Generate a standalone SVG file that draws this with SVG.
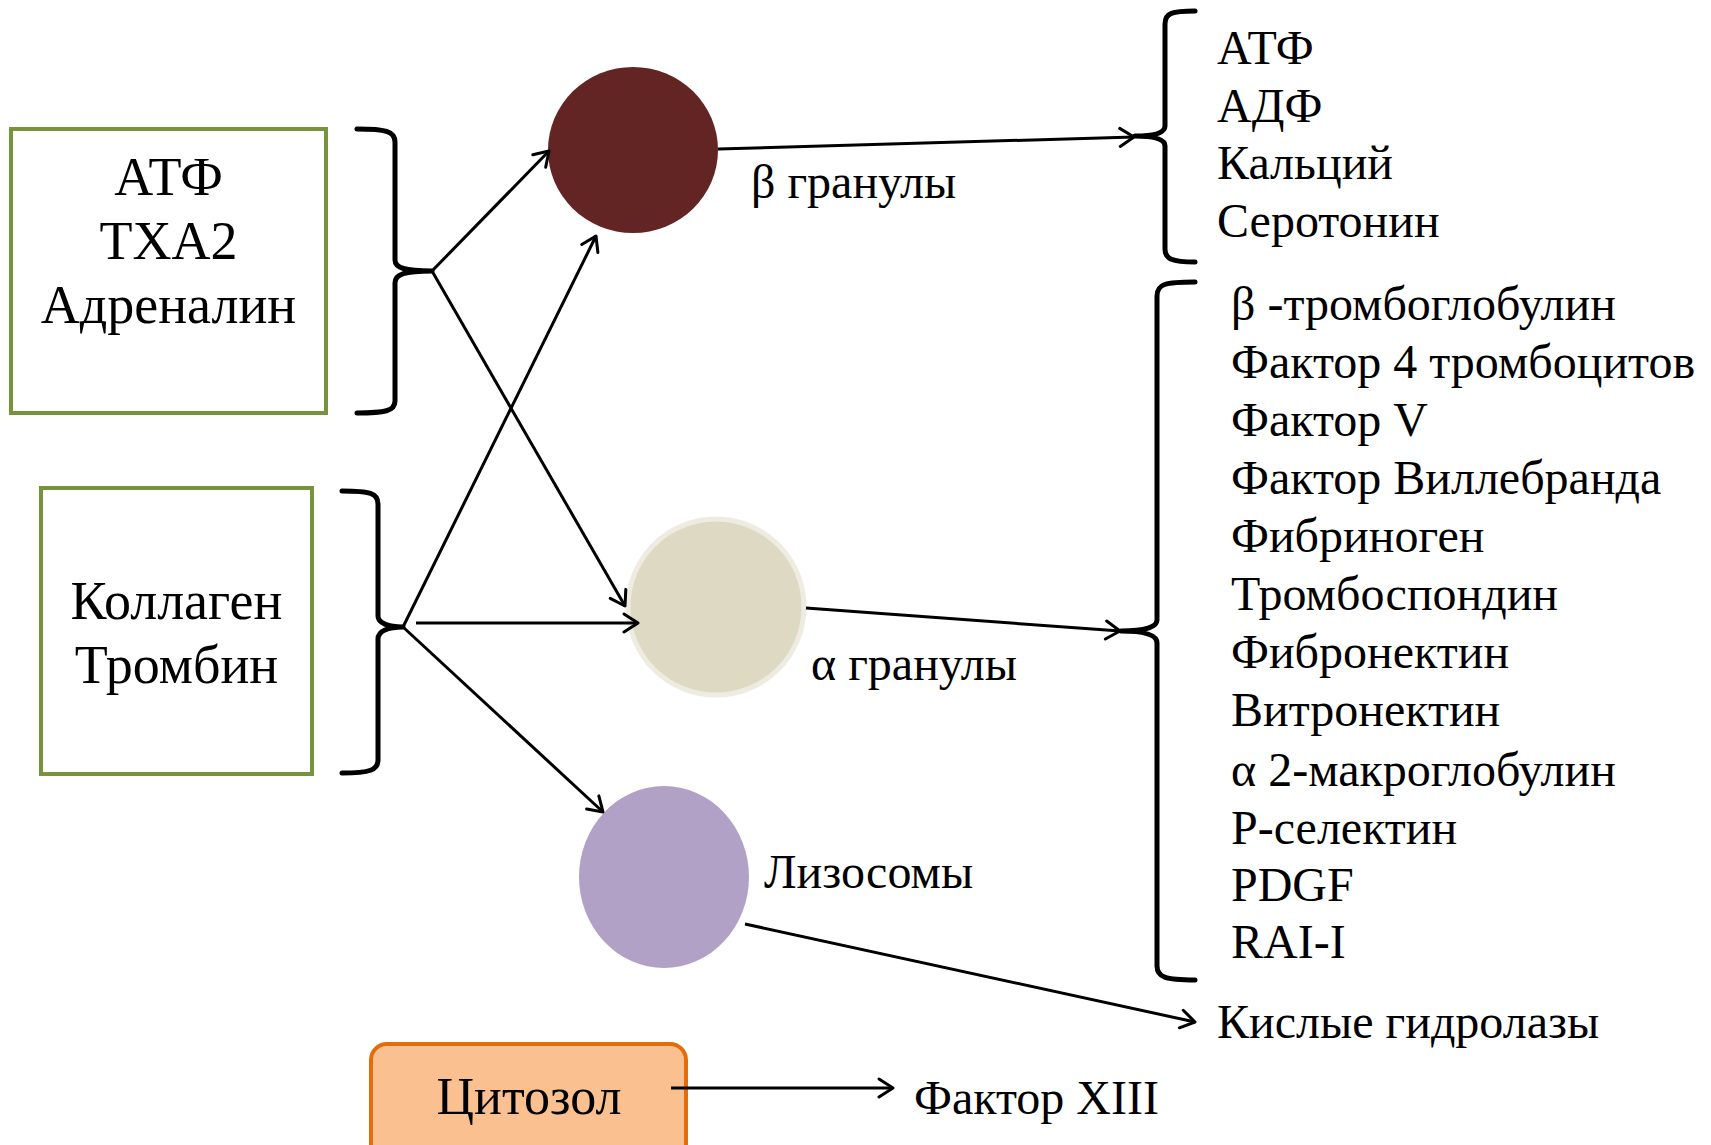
<svg xmlns="http://www.w3.org/2000/svg" width="1711" height="1145" viewBox="0 0 1711 1145">
<defs>
<style>
.big{font-size:54px}
.med{font-size:48px}
.box{fill:#fff;stroke:#77933C;stroke-width:4}
.brace{fill:none;stroke:#000;stroke-width:5;stroke-linecap:round;stroke-linejoin:round}
.arr{fill:none;stroke:#000;stroke-width:3;marker-end:url(#ah)}
</style>
<marker id="ah" markerUnits="userSpaceOnUse" viewBox="0 0 18 22" refX="16" refY="11" markerWidth="18" markerHeight="22" orient="auto">
<path d="M2,2 L16,11 L2,20" fill="none" stroke="#000" stroke-width="3" stroke-linecap="round" stroke-linejoin="round"/>
</marker>
</defs>
<rect width="1711" height="1145" fill="#fff"/>
<g font-family="'Liberation Serif', 'Times New Roman', Times, serif" fill="#000">

<g id="stimuli1">
<rect class="box" x="11" y="129" width="315" height="284"/>
<text class="big" x="168.5" y="195" text-anchor="middle">АТФ</text>
<text class="big" x="168.5" y="259" text-anchor="middle">ТХА2</text>
<text class="big" x="168.5" y="323" text-anchor="middle">Адреналин</text>
</g>
<g id="stimuli2">
<rect class="box" x="41" y="488" width="271" height="286"/>
<text class="big" x="176.5" y="619" text-anchor="middle">Коллаген</text>
<text class="big" x="176.5" y="683" text-anchor="middle">Тромбин</text>
</g>

<g id="brace-left1">
<path class="brace" d="M357,129 C385,129 395,131 395,142 L395,260 C395,268 405,271 432,271 C405,271 395,274 395,283 L395,401 C395,411 385,413 357,413"/>
</g>
<g id="brace-left2">
<path class="brace" d="M342,491 C370,491 378,493 378,504 L378,616 C378,623 388,627 403,627 C388,627 378,631 378,639 L378,760 C378,770 370,773 342,773"/>
</g>

<g id="beta">
<ellipse cx="633" cy="150" rx="85" ry="83" fill="#632523"/>
<text class="med" x="751" y="198">β гранулы</text>
</g>
<g id="alpha">
<ellipse cx="716" cy="607" rx="88" ry="88" fill="#DDD9C3" stroke="#EEECE1" stroke-width="5"/>
<text class="med" x="811" y="680">α гранулы</text>
</g>
<g id="lysosome">
<ellipse cx="664" cy="877" rx="85" ry="91" fill="#B2A1C7"/>
<text class="med" x="764" y="888">Лизосомы</text>
</g>
<g id="cytosol">
<rect x="371" y="1044" width="315" height="130" rx="16" ry="16" fill="#FAC090" stroke="#E46C0A" stroke-width="4"/>
<text x="529" y="1114" text-anchor="middle" font-size="52">Цитозол</text>
</g>

<g id="brace-right1">
<path class="brace" d="M1195,11 C1172,11 1165,13 1165,24 L1165,126 C1165,133 1155,136 1135,136 C1155,136 1165,139 1165,146 L1165,249 C1165,259 1172,262 1195,262"/>
</g>
<g id="brace-right2">
<path class="brace" d="M1195,282 C1165,282 1157,284 1157,296 L1157,620 C1157,627 1145,631 1121,631 C1145,631 1157,635 1157,643 L1157,966 C1157,977 1165,980 1195,980"/>
</g>

<g id="beta-products">
<text class="med" x="1217" y="64">АТФ</text>
<text class="med" x="1217" y="122">АДФ</text>
<text class="med" x="1217" y="179">Кальций</text>
<text class="med" x="1217" y="237">Серотонин</text>
</g>
<g id="alpha-products">
<text class="med" x="1231" y="320">β -тромбоглобулин</text>
<text class="med" x="1231" y="378">Фактор 4 тромбоцитов</text>
<text class="med" x="1231" y="436">Фактор V</text>
<text class="med" x="1231" y="494">Фактор Виллебранда</text>
<text class="med" x="1231" y="552">Фибриноген</text>
<text class="med" x="1231" y="610">Тромбоспондин</text>
<text class="med" x="1231" y="668">Фибронектин</text>
<text class="med" x="1231" y="726">Витронектин</text>
<text class="med" x="1231" y="786">α 2-макроглобулин</text>
<text class="med" x="1231" y="844">P-селектин</text>
<text class="med" x="1231" y="901">PDGF</text>
<text class="med" x="1231" y="958">RAI-I</text>
</g>
<g id="lysosome-products">
<text class="med" x="1217" y="1038">Кислые гидролазы</text>
</g>
<g id="cytosol-products">
<text class="med" x="914" y="1114">Фактор XIII</text>
</g>
</g>

<g id="connectors">
<line class="arr" x1="432" y1="271" x2="549" y2="151"/>
<line class="arr" x1="432" y1="271" x2="625" y2="606"/>
<line class="arr" x1="403" y1="627" x2="596" y2="236"/>
<line class="arr" x1="416" y1="623" x2="638" y2="623"/>
<line class="arr" x1="403" y1="627" x2="603" y2="812"/>
<line class="arr" x1="718" y1="149" x2="1134" y2="137"/>
<line class="arr" x1="806" y1="608" x2="1120" y2="631"/>
<line class="arr" x1="745" y1="924" x2="1195" y2="1022"/>
<line class="arr" x1="671" y1="1088" x2="893" y2="1088"/>
</g>
</svg>
